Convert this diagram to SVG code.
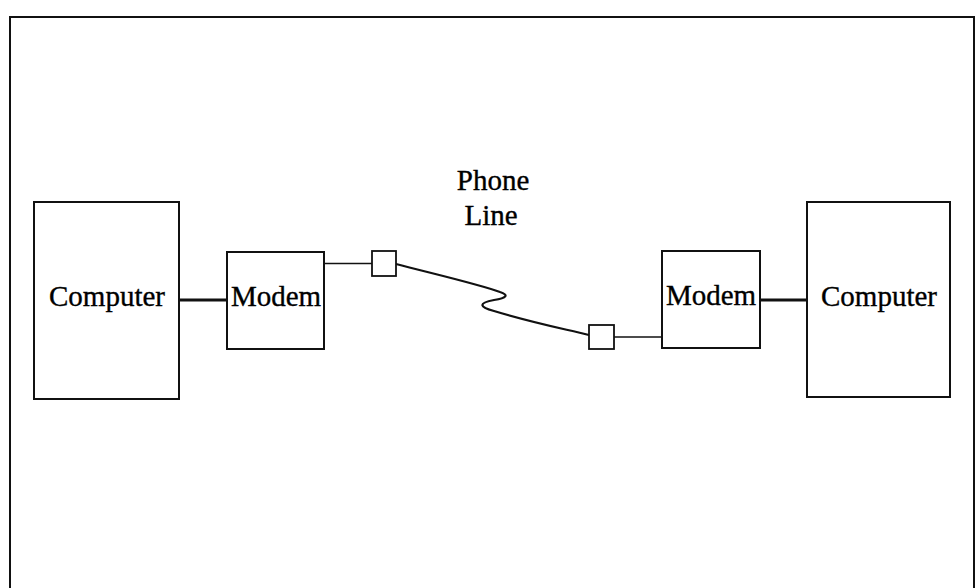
<svg xmlns="http://www.w3.org/2000/svg" width="980" height="588" viewBox="0 0 980 588">
<style>
.box{fill:#fff;stroke:#111;stroke-width:2}
.jack{fill:#fff;stroke:#111;stroke-width:1.8}
.lbl{font-family:"Liberation Serif","Times New Roman",serif;font-size:29px;fill:#000;stroke:#000;stroke-width:0.35;text-anchor:middle}
.thick{stroke:#111;stroke-width:3;fill:none}
.thin{stroke:#111;stroke-width:1.6;fill:none}
.cord{stroke:#111;stroke-width:2.2;fill:none;stroke-linejoin:round;stroke-linecap:round}
</style>
<rect width="980" height="588" fill="#fff"/>
<path d="M10,600 V17 H974 V600" fill="none" stroke="#111" stroke-width="2"/>
<g id="connectors">
<line class="thick" x1="179" y1="300" x2="227" y2="300"/>
<line class="thin" x1="324" y1="263.5" x2="372" y2="263.5"/>
<path class="cord" d="M396,264 C430,273 478,284 500,292 C509,295 507,298 494,300 C478,303 479,307 494,311 C530,322 560,328 589,335"/>
<line class="thin" x1="614" y1="337" x2="662" y2="337"/>
<line class="thick" x1="760" y1="300" x2="807" y2="300"/>
</g>
<g id="computer-left">
<rect class="box" x="34" y="202" width="145" height="197"/>
<text class="lbl" x="107" y="306">Computer</text>
</g>
<g id="modem-left">
<rect class="box" x="227" y="252" width="97" height="97"/>
<text class="lbl" x="276" y="306">Modem</text>
</g>
<g id="jack-left">
<rect class="jack" x="372" y="251" width="24" height="25"/>
</g>
<g id="phone-line-label">
<text class="lbl" x="493" y="190">Phone</text>
<text class="lbl" x="491" y="225">Line</text>
</g>
<g id="jack-right">
<rect class="jack" x="589" y="325" width="25" height="24"/>
</g>
<g id="modem-right">
<rect class="box" x="662" y="251" width="98" height="97"/>
<text class="lbl" x="711" y="305">Modem</text>
</g>
<g id="computer-right">
<rect class="box" x="807" y="202" width="143" height="195"/>
<text class="lbl" x="879" y="306">Computer</text>
</g>
</svg>
